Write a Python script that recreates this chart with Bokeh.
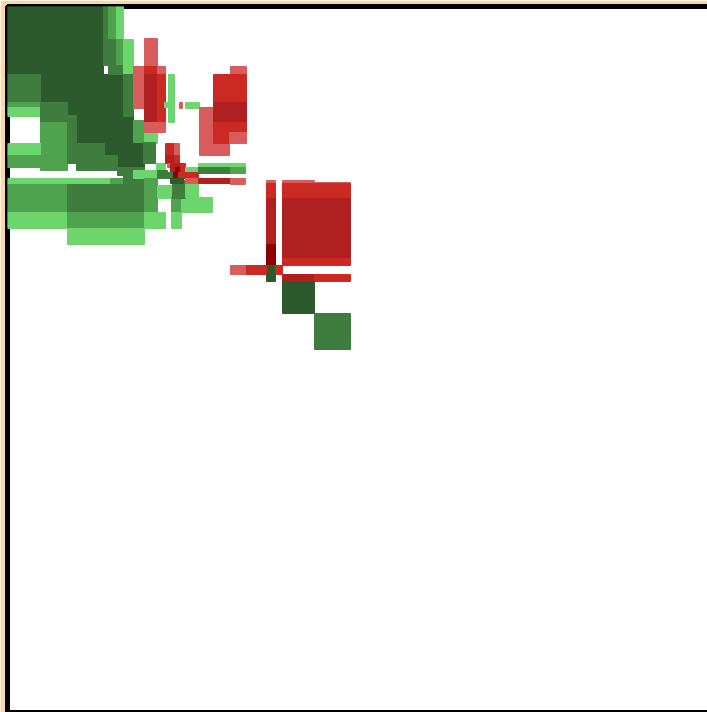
from bokeh.plotting import figure
from bokeh.models import Range1d, ColumnDataSource
from bokeh.embed import file_html
from bokeh.resources import INLINE

DG = "#2d5a2d"
MG2 = "#3e7d3e"
MG1 = "#4fa34f"
LG = "#6dd56d"
LR = "#d95c5c"
R = "#cb2a23"
FR = "#b02020"
DR = "#8b0000"

# rectangles: left, top, right, bottom (data units), colour
left = [7, 40, 67, 76, 76, 104, 117, 103, 108, 116, 108, 116, 116, 123, 123,
        7, 7, 7, 40, 40, 67, 76, 104, 117, 133, 144, 143,
        7, 7, 7, 110, 123, 133, 156, 157, 7, 67, 7, 67, 67, 144, 144, 157,
        171, 171, 181, 172, 185,
        144, 133, 144, 157, 144, 157, 143, 168, 164, 179, 185, 199, 213, 230,
        213, 213, 213, 213, 229,
        165, 174, 165, 174, 167, 170, 175, 180, 185, 185, 163, 173, 178, 170,
        185, 198, 198, 230, 198, 230,
        266, 266, 266, 266, 266, 230, 246, 275, 282, 314, 282, 282, 282, 282,
        314, 282, 314]
top = [6, 74, 102, 102, 122, 143, 155, 6, 6, 6, 39, 39, 65, 39, 74,
       74, 102, 107, 102, 122, 115, 143, 155, 167, 120, 130, 142,
       143, 155, 178, 178, 175, 170, 163, 170, 184, 184, 212, 212, 228, 178, 212, 185,
       197, 212, 197, 180, 183,
       38, 66, 66, 66, 74, 74, 122, 74, 102, 102, 102, 107, 143, 66,
       74, 102, 122, 132, 132,
       143, 143, 155, 155, 163, 163, 167, 163, 167, 172, 172, 172, 172, 178,
       178, 163, 167, 167, 178, 178,
       180, 183, 198, 244, 265, 265, 265, 265, 180, 182, 183, 198, 258, 274,
       274, 281, 313]
right = [103, 123, 76, 133, 144, 144, 144, 108, 116, 123, 116, 123, 123, 133, 133,
         40, 40, 40, 67, 67, 76, 104, 117, 144, 144, 157, 155,
         40, 40, 110, 123, 144, 157, 165, 167, 67, 144, 67, 144, 144, 157, 165, 171,
         181, 181, 212, 185, 198,
         157, 144, 157, 165, 157, 165, 165, 174, 168, 182, 199, 213, 229, 246,
         246, 246, 246, 229, 246,
         174, 179, 174, 179, 175, 180, 180, 185, 198, 198, 173, 178, 185, 183,
         198, 245, 230, 245, 230, 245,
         275, 275, 275, 275, 275, 246, 266, 282, 314, 350, 350, 350, 350, 314,
         350, 314, 350]
bottom = [74, 102, 115, 122, 143, 155, 167, 65, 39, 39, 74, 65, 74, 74, 116,
          102, 107, 116, 122, 170, 163, 170, 170, 175, 142, 143, 163,
          155, 167, 184, 184, 184, 178, 170, 178, 212, 212, 228, 228, 244, 212, 228, 198,
          212, 228, 212, 198, 197,
          66, 108, 74, 74, 122, 122, 132, 122, 107, 108, 108, 155, 155, 74,
          102, 122, 132, 143, 143,
          155, 155, 163, 163, 167, 172, 172, 172, 172, 178, 178, 178, 178, 183,
          183, 167, 173, 173, 183, 184,
          183, 198, 244, 265, 281, 274, 274, 274, 183, 185, 198, 258, 265, 281,
          281, 313, 349]
colors = [DG, DG, DG, DG, DG, DG, DG, MG2, MG1, LG, MG2, MG1, MG2, LG, MG2,
          MG2, MG1, LG, MG2, MG1, MG2, MG2, MG2, MG2, MG1, LG, MG2,
          LG, MG1, LG, MG1, MG2, LG, LG, MG2, MG1, MG2, LG, MG1, LG, MG1, LG, LG,
          MG1, LG, LG, MG2, LG,
          LR, LR, R, LR, FR, R, LR, LG, LG, LR, LG, LR, LR, LR,
          R, FR, R, R, LR,
          R, LR, FR, R, LR, FR, DR, R, LG, R, MG2, DR, R, DG,
          LR, LG, MG2, MG1, FR, LR,
          LR, R, FR, DR, DG, LR, R, R, LR, LR, R, FR, R, FR,
          R, DG, MG2]

src = ColumnDataSource(dict(left=left, right=right, top=top, bottom=bottom, color=colors))

p = figure(x_range=Range1d(7, 727), y_range=Range1d(712, 6),
           frame_width=720, frame_height=706,
           min_border_left=7, min_border_top=6, min_border_right=5, min_border_bottom=5,
           output_backend="svg", toolbar_location=None,
           x_axis_location=None, y_axis_location=None,
           border_fill_color="#fdd9a1", background_fill_color="white",
           outline_line_color="black", outline_line_width=5)
p.grid.visible = False

p.quad(left="left", right="right", top="top", bottom="bottom", source=src,
       fill_color="color", fill_alpha=1.0, line_color="color", line_width=1)

open("out.html", "w").write(file_html(p, INLINE))
